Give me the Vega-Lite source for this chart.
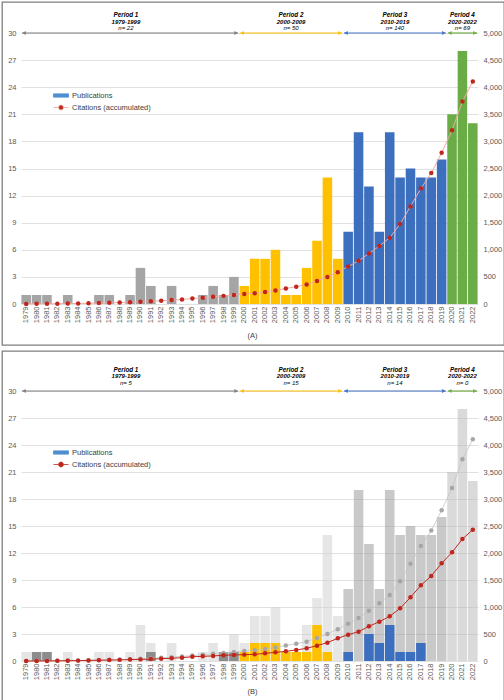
{
  "$schema": "https://vega.github.io/schema/vega-lite/v6.json",
  "padding": {"left": 1, "top": 1, "right": 1, "bottom": 1},
  "spacing": 4,
  "config": {
    "view": {"stroke": "#7f7f7f", "strokeWidth": 1.3},
    "font": "Liberation Sans"
  },
  "datasets": {
    "years": [
      {"year": 1979, "period": "Period 1", "pa": 1, "ps": 0, "ca": 2, "cs": 0},
      {"year": 1980, "period": "Period 1", "pa": 1, "ps": 1, "ca": 3, "cs": 1},
      {"year": 1981, "period": "Period 1", "pa": 1, "ps": 1, "ca": 4, "cs": 2},
      {"year": 1982, "period": "Period 1", "pa": 0, "ps": 0, "ca": 5, "cs": 3},
      {"year": 1983, "period": "Period 1", "pa": 1, "ps": 0, "ca": 8, "cs": 5},
      {"year": 1984, "period": "Period 1", "pa": 0, "ps": 0, "ca": 10, "cs": 7},
      {"year": 1985, "period": "Period 1", "pa": 0, "ps": 0, "ca": 14, "cs": 10},
      {"year": 1986, "period": "Period 1", "pa": 1, "ps": 0, "ca": 18, "cs": 14},
      {"year": 1987, "period": "Period 1", "pa": 1, "ps": 0, "ca": 22, "cs": 17},
      {"year": 1988, "period": "Period 1", "pa": 0, "ps": 0, "ca": 26, "cs": 21},
      {"year": 1989, "period": "Period 1", "pa": 1, "ps": 0, "ca": 32, "cs": 26},
      {"year": 1990, "period": "Period 1", "pa": 4, "ps": 0, "ca": 40, "cs": 30},
      {"year": 1991, "period": "Period 1", "pa": 2, "ps": 1, "ca": 50, "cs": 35},
      {"year": 1992, "period": "Period 1", "pa": 0, "ps": 0, "ca": 60, "cs": 42},
      {"year": 1993, "period": "Period 1", "pa": 2, "ps": 0, "ca": 72, "cs": 50},
      {"year": 1994, "period": "Period 1", "pa": 0, "ps": 0, "ca": 85, "cs": 62},
      {"year": 1995, "period": "Period 1", "pa": 0, "ps": 0, "ca": 100, "cs": 78},
      {"year": 1996, "period": "Period 1", "pa": 1, "ps": 0, "ca": 117, "cs": 87},
      {"year": 1997, "period": "Period 1", "pa": 2, "ps": 0, "ca": 135, "cs": 94},
      {"year": 1998, "period": "Period 1", "pa": 1, "ps": 1, "ca": 150, "cs": 106},
      {"year": 1999, "period": "Period 1", "pa": 3, "ps": 1, "ca": 167, "cs": 112},
      {"year": 2000, "period": "Period 2", "pa": 2, "ps": 1, "ca": 185, "cs": 118},
      {"year": 2001, "period": "Period 2", "pa": 5, "ps": 2, "ca": 198, "cs": 123},
      {"year": 2002, "period": "Period 2", "pa": 5, "ps": 2, "ca": 222, "cs": 142},
      {"year": 2003, "period": "Period 2", "pa": 6, "ps": 2, "ca": 250, "cs": 160},
      {"year": 2004, "period": "Period 2", "pa": 1, "ps": 1, "ca": 287, "cs": 179},
      {"year": 2005, "period": "Period 2", "pa": 1, "ps": 1, "ca": 320, "cs": 204},
      {"year": 2006, "period": "Period 2", "pa": 4, "ps": 1, "ca": 358, "cs": 235},
      {"year": 2007, "period": "Period 2", "pa": 7, "ps": 4, "ca": 426, "cs": 284},
      {"year": 2008, "period": "Period 2", "pa": 14, "ps": 1, "ca": 500, "cs": 340},
      {"year": 2009, "period": "Period 2", "pa": 5, "ps": 0, "ca": 587, "cs": 420},
      {"year": 2010, "period": "Period 3", "pa": 8, "ps": 1, "ca": 690, "cs": 488},
      {"year": 2011, "period": "Period 3", "pa": 19, "ps": 0, "ca": 796, "cs": 543},
      {"year": 2012, "period": "Period 3", "pa": 13, "ps": 3, "ca": 930, "cs": 642},
      {"year": 2013, "period": "Period 3", "pa": 8, "ps": 2, "ca": 1070, "cs": 728},
      {"year": 2014, "period": "Period 3", "pa": 19, "ps": 4, "ca": 1222, "cs": 827},
      {"year": 2015, "period": "Period 3", "pa": 14, "ps": 1, "ca": 1475, "cs": 975},
      {"year": 2016, "period": "Period 3", "pa": 15, "ps": 1, "ca": 1800, "cs": 1179},
      {"year": 2017, "period": "Period 3", "pa": 14, "ps": 2, "ca": 2130, "cs": 1401},
      {"year": 2018, "period": "Period 3", "pa": 14, "ps": 0, "ca": 2415, "cs": 1574},
      {"year": 2019, "period": "Period 3", "pa": 16, "ps": 0, "ca": 2790, "cs": 1809},
      {"year": 2020, "period": "Period 4", "pa": 21, "ps": 0, "ca": 3204, "cs": 2012},
      {"year": 2021, "period": "Period 4", "pa": 28, "ps": 0, "ca": 3735, "cs": 2259},
      {"year": 2022, "period": "Period 4", "pa": 20, "ps": 0, "ca": 4105, "cs": 2432}
    ],
    "periods": [
      {"period": "Period 1", "range": "1979-1999", "nA": "n= 22", "nB": "n= 5", "start": 1978.6, "end": 1999.4, "mid": 1988.6},
      {"period": "Period 2", "range": "2000-2009", "nA": "n= 50", "nB": "n= 15", "start": 1999.6, "end": 2009.4, "mid": 2004.5},
      {"period": "Period 3", "range": "2010-2019", "nA": "n= 140", "nB": "n= 14", "start": 2009.6, "end": 2019.4, "mid": 2014.5},
      {"period": "Period 4", "range": "2020-2022", "nA": "n= 69", "nB": "n= 0", "start": 2019.6, "end": 2022.4, "mid": 2021}
    ],
    "series": [
      {"series": "Publications"},
      {"series": "Citations (accumulated)"}
    ]
  },
  "vconcat": [
    {
      "width": 502,
      "height": 343,
      "resolve": {"scale": {"x": "independent", "y": "independent", "fill": "independent", "stroke": "independent", "color": "independent"}},
      "layer": [
        {
          "data": {"name": "years"},
          "mark": {"type": "bar"},
          "encoding": {
            "x": {
              "field": "year", "type": "ordinal",
              "scale": {"range": [19, 476], "paddingInner": 0.08, "paddingOuter": 0.04},
              "axis": {"orient": "bottom", "offset": -41, "labelAngle": -90, "labelFontSize": 7.5, "labelColor": "#595959", "labelPadding": 2, "ticks": false, "domain": false, "grid": false, "title": "(A)", "titleFontSize": 7.5, "titleFontWeight": "normal", "titleColor": "#404040", "titlePadding": 9, "titleX": 250}
            },
            "y": {
              "field": "pa", "type": "quantitative",
              "scale": {"domain": [0, 30], "range": [302, 31], "nice": false},
              "axis": {"orient": "left", "offset": -19, "values": [0, 3, 6, 9, 12, 15, 18, 21, 24, 27, 30], "labelFontSize": 7.5, "labelColor": "#595959", "labelPadding": 5, "ticks": false, "domain": false, "title": null, "grid": true, "gridColor": "#d9d9d9", "gridWidth": 0.8}
            },
            "fill": {
              "field": "period", "type": "nominal",
              "scale": {"domain": ["Period 1", "Period 2", "Period 3", "Period 4"], "range": ["#a5a5a5", "#ffc000", "#3d6fbf", "#6aad47"]},
              "legend": null
            }
          }
        },
        {
          "data": {"name": "years"},
          "mark": {"type": "line", "stroke": "#f0aaa4", "strokeWidth": 1},
          "encoding": {
            "x": {"field": "year", "type": "quantitative", "scale": {"domain": [1978.5, 2022.5], "range": [19, 476], "nice": false, "zero": false}, "axis": null},
            "y": {
              "field": "ca", "type": "quantitative",
              "scale": {"domain": [0, 5000], "range": [302, 31], "nice": false},
              "axis": {"orient": "right", "offset": -26, "values": [0, 500, 1000, 1500, 2000, 2500, 3000, 3500, 4000, 4500, 5000], "format": ",.0f", "labelFontSize": 7.5, "labelColor": "#595959", "labelPadding": 5, "ticks": false, "domain": false, "title": null, "grid": false}
            }
          }
        },
        {
          "data": {"name": "years"},
          "mark": {"type": "point", "filled": true, "fill": "#c0261c", "size": 20, "opacity": 1},
          "encoding": {
            "x": {"field": "year", "type": "quantitative", "scale": {"domain": [1978.5, 2022.5], "range": [19, 476], "nice": false, "zero": false}, "axis": null},
            "y": {"field": "ca", "type": "quantitative", "scale": {"domain": [0, 5000], "range": [302, 31], "nice": false}, "axis": null}
          }
        },
        {
          "data": {"name": "periods"},
          "mark": {"type": "rule", "strokeWidth": 1.2},
          "encoding": {
            "x": {"field": "start", "type": "quantitative", "scale": {"domain": [1978.5, 2022.5], "range": [19, 476], "nice": false, "zero": false}, "axis": null},
            "x2": {"field": "end"},
            "y": {"datum": 30, "type": "quantitative", "scale": {"domain": [0, 30], "range": [302, 31], "nice": false}, "axis": null},
            "stroke": {"field": "period", "type": "nominal", "scale": {"domain": ["Period 1", "Period 2", "Period 3", "Period 4"], "range": ["#7f7f7f", "#ffc000", "#4472c4", "#70ad47"]}, "legend": null}
          }
        },
        {
          "data": {"name": "periods"},
          "mark": {"type": "point", "shape": "triangle-left", "filled": true, "size": 16, "xOffset": 2, "opacity": 1},
          "encoding": {
            "x": {"field": "start", "type": "quantitative", "scale": {"domain": [1978.5, 2022.5], "range": [19, 476], "nice": false, "zero": false}, "axis": null},
            "y": {"datum": 30, "type": "quantitative", "scale": {"domain": [0, 30], "range": [302, 31], "nice": false}, "axis": null},
            "fill": {"field": "period", "type": "nominal", "scale": {"domain": ["Period 1", "Period 2", "Period 3", "Period 4"], "range": ["#7f7f7f", "#ffc000", "#4472c4", "#70ad47"]}, "legend": null}
          }
        },
        {
          "data": {"name": "periods"},
          "mark": {"type": "point", "shape": "triangle-right", "filled": true, "size": 16, "xOffset": -2, "opacity": 1},
          "encoding": {
            "x": {"field": "end", "type": "quantitative", "scale": {"domain": [1978.5, 2022.5], "range": [19, 476], "nice": false, "zero": false}, "axis": null},
            "y": {"datum": 30, "type": "quantitative", "scale": {"domain": [0, 30], "range": [302, 31], "nice": false}, "axis": null},
            "fill": {"field": "period", "type": "nominal", "scale": {"domain": ["Period 1", "Period 2", "Period 3", "Period 4"], "range": ["#7f7f7f", "#ffc000", "#4472c4", "#70ad47"]}, "legend": null}
          }
        },
        {
          "data": {"name": "periods"},
          "mark": {"type": "text", "fontSize": 6.3, "fontWeight": "bold", "fontStyle": "italic", "dy": -16, "baseline": "alphabetic", "color": "#000000"},
          "encoding": {
            "x": {"field": "mid", "type": "quantitative", "scale": {"domain": [1978.5, 2022.5], "range": [19, 476], "nice": false, "zero": false}, "axis": null},
            "y": {"datum": 30, "type": "quantitative", "scale": {"domain": [0, 30], "range": [302, 31], "nice": false}, "axis": null},
            "text": {"field": "period"}
          }
        },
        {
          "data": {"name": "periods"},
          "mark": {"type": "text", "fontSize": 6, "fontWeight": "bold", "fontStyle": "italic", "dy": -9.5, "baseline": "alphabetic", "color": "#000000"},
          "encoding": {
            "x": {"field": "mid", "type": "quantitative", "scale": {"domain": [1978.5, 2022.5], "range": [19, 476], "nice": false, "zero": false}, "axis": null},
            "y": {"datum": 30, "type": "quantitative", "scale": {"domain": [0, 30], "range": [302, 31], "nice": false}, "axis": null},
            "text": {"field": "range"}
          }
        },
        {
          "data": {"name": "periods"},
          "mark": {"type": "text", "fontSize": 6, "fontStyle": "italic", "dy": -3, "baseline": "alphabetic", "color": "#000000"},
          "encoding": {
            "x": {"field": "mid", "type": "quantitative", "scale": {"domain": [1978.5, 2022.5], "range": [19, 476], "nice": false, "zero": false}, "axis": null},
            "y": {"datum": 30, "type": "quantitative", "scale": {"domain": [0, 30], "range": [302, 31], "nice": false}, "axis": null},
            "text": {"field": "nA"}
          }
        },
        {
          "data": {"name": "series"},
          "mark": {"type": "point", "filled": true, "opacity": 0},
          "encoding": {
            "color": {
              "field": "series", "type": "nominal",
              "scale": {"domain": ["Publications", "Citations (accumulated)"], "range": ["#4f8fd1", "#c0261c"]},
              "legend": {
                "orient": "none", "legendX": 51, "legendY": 85.5, "title": null, "padding": 0,
                "labelFontSize": 7.5, "labelColor": "#404040", "labelOffset": 3,
                "symbolSize": 225, "rowPadding": -2, "symbolOpacity": 1,
                "encode": {"symbols": {"update": {
                  "opacity": {"value": 1},
                  "shape": {"signal": "datum.value === 'Publications' ? 'M-1,-0.22H1V0.22H-1Z' : 'M-1,0H-0.32M0.32,0H1M-0.32,0A0.32,0.32 0 1,0 0.32,0A0.32,0.32 0 1,0 -0.32,0Z'"},
                  "stroke": {"signal": "datum.value === 'Publications' ? '#4f8fd1' : '#eca19b'"},
                  "strokeWidth": {"value": 0.8}
                }}}
              }
            }
          }
        }
      ]
    },
    {
      "width": 502,
      "height": 350,
      "resolve": {"scale": {"x": "independent", "y": "independent", "fill": "independent", "stroke": "independent", "color": "independent"}},
      "layer": [
        {
          "data": {"name": "years"},
          "mark": {"type": "bar", "opacity": 0.55},
          "encoding": {
            "x": {
              "field": "year", "type": "ordinal",
              "scale": {"range": [19, 476], "paddingInner": 0.08, "paddingOuter": 0.04},
              "axis": {"orient": "bottom", "offset": -40, "labelAngle": -90, "labelFontSize": 7.5, "labelColor": "#595959", "labelPadding": 2, "ticks": false, "domain": false, "grid": false, "title": "(B)", "titleFontSize": 7.5, "titleFontWeight": "normal", "titleColor": "#404040", "titlePadding": 8, "titleX": 250}
            },
            "y": {
              "field": "pa", "type": "quantitative",
              "scale": {"domain": [0, 30], "range": [310, 40], "nice": false},
              "axis": {"orient": "left", "offset": -19, "values": [0, 3, 6, 9, 12, 15, 18, 21, 24, 27, 30], "labelFontSize": 7.5, "labelColor": "#595959", "labelPadding": 5, "ticks": false, "domain": false, "title": null, "grid": true, "gridColor": "#d9d9d9", "gridWidth": 0.8}
            },
            "fill": {
              "field": "period", "type": "nominal",
              "scale": {"domain": ["Period 1", "Period 2", "Period 3", "Period 4"], "range": ["#cfcfcf", "#d2d2d2", "#9d9d9d", "#bcbcbc"]},
              "legend": null
            }
          }
        },
        {
          "data": {"name": "years"},
          "mark": {"type": "bar"},
          "encoding": {
            "x": {"field": "year", "type": "ordinal", "scale": {"range": [19, 476], "paddingInner": 0.08, "paddingOuter": 0.04}, "axis": null},
            "y": {"field": "ps", "type": "quantitative", "scale": {"domain": [0, 30], "range": [310, 40], "nice": false}, "axis": null},
            "fill": {
              "field": "period", "type": "nominal",
              "scale": {"domain": ["Period 1", "Period 2", "Period 3", "Period 4"], "range": ["#8c8c8c", "#ffc000", "#3d6fbf", "#6aad47"]},
              "legend": null
            }
          }
        },
        {
          "data": {"name": "years"},
          "mark": {"type": "line", "stroke": "#c4c4c4", "strokeWidth": 0.8},
          "encoding": {
            "x": {"field": "year", "type": "quantitative", "scale": {"domain": [1978.5, 2022.5], "range": [19, 476], "nice": false, "zero": false}, "axis": null},
            "y": {"field": "ca", "type": "quantitative", "scale": {"domain": [0, 5000], "range": [310, 40], "nice": false}, "axis": null}
          }
        },
        {
          "data": {"name": "years"},
          "mark": {"type": "point", "filled": true, "fill": "#a6a6a6", "size": 20, "opacity": 1},
          "encoding": {
            "x": {"field": "year", "type": "quantitative", "scale": {"domain": [1978.5, 2022.5], "range": [19, 476], "nice": false, "zero": false}, "axis": null},
            "y": {"field": "ca", "type": "quantitative", "scale": {"domain": [0, 5000], "range": [310, 40], "nice": false}, "axis": null}
          }
        },
        {
          "data": {"name": "years"},
          "mark": {"type": "line", "stroke": "#c0261c", "strokeWidth": 1},
          "encoding": {
            "x": {"field": "year", "type": "quantitative", "scale": {"domain": [1978.5, 2022.5], "range": [19, 476], "nice": false, "zero": false}, "axis": null},
            "y": {
              "field": "cs", "type": "quantitative",
              "scale": {"domain": [0, 5000], "range": [310, 40], "nice": false},
              "axis": {"orient": "right", "offset": -26, "values": [0, 500, 1000, 1500, 2000, 2500, 3000, 3500, 4000, 4500, 5000], "format": ",.0f", "labelFontSize": 7.5, "labelColor": "#595959", "labelPadding": 5, "ticks": false, "domain": false, "title": null, "grid": false}
            }
          }
        },
        {
          "data": {"name": "years"},
          "mark": {"type": "point", "filled": true, "fill": "#c0261c", "size": 20, "opacity": 1},
          "encoding": {
            "x": {"field": "year", "type": "quantitative", "scale": {"domain": [1978.5, 2022.5], "range": [19, 476], "nice": false, "zero": false}, "axis": null},
            "y": {"field": "cs", "type": "quantitative", "scale": {"domain": [0, 5000], "range": [310, 40], "nice": false}, "axis": null}
          }
        },
        {
          "data": {"name": "periods"},
          "mark": {"type": "rule", "strokeWidth": 1.2},
          "encoding": {
            "x": {"field": "start", "type": "quantitative", "scale": {"domain": [1978.5, 2022.5], "range": [19, 476], "nice": false, "zero": false}, "axis": null},
            "x2": {"field": "end"},
            "y": {"datum": 30, "type": "quantitative", "scale": {"domain": [0, 30], "range": [310, 40], "nice": false}, "axis": null},
            "stroke": {"field": "period", "type": "nominal", "scale": {"domain": ["Period 1", "Period 2", "Period 3", "Period 4"], "range": ["#7f7f7f", "#ffc000", "#4472c4", "#70ad47"]}, "legend": null}
          }
        },
        {
          "data": {"name": "periods"},
          "mark": {"type": "point", "shape": "triangle-left", "filled": true, "size": 16, "xOffset": 2, "opacity": 1},
          "encoding": {
            "x": {"field": "start", "type": "quantitative", "scale": {"domain": [1978.5, 2022.5], "range": [19, 476], "nice": false, "zero": false}, "axis": null},
            "y": {"datum": 30, "type": "quantitative", "scale": {"domain": [0, 30], "range": [310, 40], "nice": false}, "axis": null},
            "fill": {"field": "period", "type": "nominal", "scale": {"domain": ["Period 1", "Period 2", "Period 3", "Period 4"], "range": ["#7f7f7f", "#ffc000", "#4472c4", "#70ad47"]}, "legend": null}
          }
        },
        {
          "data": {"name": "periods"},
          "mark": {"type": "point", "shape": "triangle-right", "filled": true, "size": 16, "xOffset": -2, "opacity": 1},
          "encoding": {
            "x": {"field": "end", "type": "quantitative", "scale": {"domain": [1978.5, 2022.5], "range": [19, 476], "nice": false, "zero": false}, "axis": null},
            "y": {"datum": 30, "type": "quantitative", "scale": {"domain": [0, 30], "range": [310, 40], "nice": false}, "axis": null},
            "fill": {"field": "period", "type": "nominal", "scale": {"domain": ["Period 1", "Period 2", "Period 3", "Period 4"], "range": ["#7f7f7f", "#ffc000", "#4472c4", "#70ad47"]}, "legend": null}
          }
        },
        {
          "data": {"name": "periods"},
          "mark": {"type": "text", "fontSize": 6.3, "fontWeight": "bold", "fontStyle": "italic", "dy": -19, "baseline": "alphabetic", "color": "#000000"},
          "encoding": {
            "x": {"field": "mid", "type": "quantitative", "scale": {"domain": [1978.5, 2022.5], "range": [19, 476], "nice": false, "zero": false}, "axis": null},
            "y": {"datum": 30, "type": "quantitative", "scale": {"domain": [0, 30], "range": [310, 40], "nice": false}, "axis": null},
            "text": {"field": "period"}
          }
        },
        {
          "data": {"name": "periods"},
          "mark": {"type": "text", "fontSize": 6, "fontWeight": "bold", "fontStyle": "italic", "dy": -13, "baseline": "alphabetic", "color": "#000000"},
          "encoding": {
            "x": {"field": "mid", "type": "quantitative", "scale": {"domain": [1978.5, 2022.5], "range": [19, 476], "nice": false, "zero": false}, "axis": null},
            "y": {"datum": 30, "type": "quantitative", "scale": {"domain": [0, 30], "range": [310, 40], "nice": false}, "axis": null},
            "text": {"field": "range"}
          }
        },
        {
          "data": {"name": "periods"},
          "mark": {"type": "text", "fontSize": 6, "fontStyle": "italic", "dy": -6.5, "baseline": "alphabetic", "color": "#000000"},
          "encoding": {
            "x": {"field": "mid", "type": "quantitative", "scale": {"domain": [1978.5, 2022.5], "range": [19, 476], "nice": false, "zero": false}, "axis": null},
            "y": {"datum": 30, "type": "quantitative", "scale": {"domain": [0, 30], "range": [310, 40], "nice": false}, "axis": null},
            "text": {"field": "nB"}
          }
        },
        {
          "data": {"name": "series"},
          "mark": {"type": "point", "filled": true, "opacity": 0},
          "encoding": {
            "color": {
              "field": "series", "type": "nominal",
              "scale": {"domain": ["Publications", "Citations (accumulated)"], "range": ["#4f8fd1", "#c0261c"]},
              "legend": {
                "orient": "none", "legendX": 51, "legendY": 93.5, "title": null, "padding": 0,
                "labelFontSize": 7.5, "labelColor": "#404040", "labelOffset": 3,
                "symbolSize": 225, "rowPadding": -2, "symbolOpacity": 1,
                "encode": {"symbols": {"update": {
                  "opacity": {"value": 1},
                  "shape": {"signal": "datum.value === 'Publications' ? 'M-1,-0.22H1V0.22H-1Z' : 'M-1,0H-0.32M0.32,0H1M-0.32,0A0.32,0.32 0 1,0 0.32,0A0.32,0.32 0 1,0 -0.32,0Z'"},
                  "stroke": {"signal": "datum.value === 'Publications' ? '#4f8fd1' : '#c0261c'"},
                  "strokeWidth": {"value": 0.8}
                }}}
              }
            }
          }
        }
      ]
    }
  ]
}
